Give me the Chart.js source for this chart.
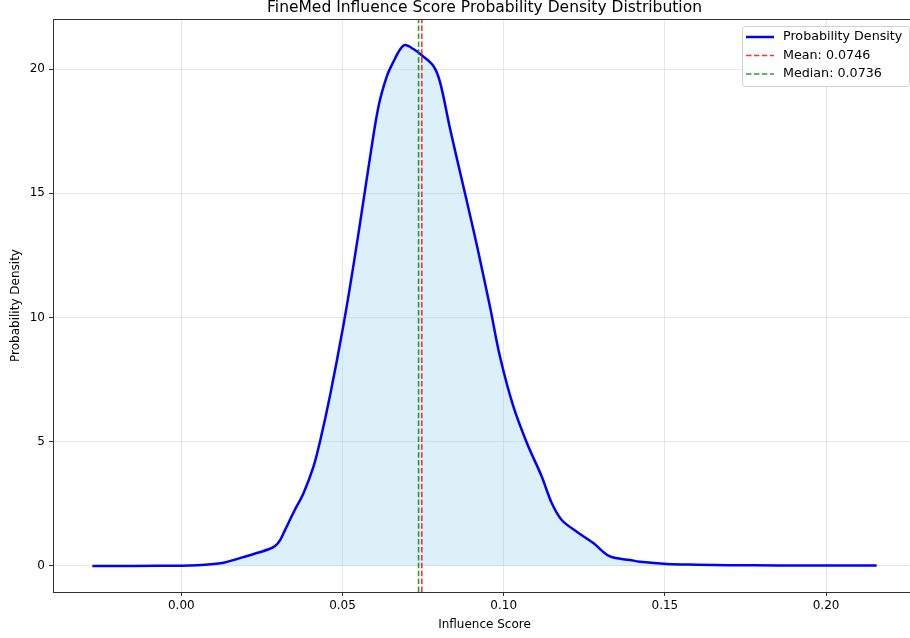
<!DOCTYPE html>
<html>
<head>
<meta charset="utf-8">
<script src="https://cdn.jsdelivr.net/npm/chart.js@4"></script>
<style>
  html, body { margin: 0; padding: 0; background: #fff; overflow: hidden; }
  #wrap { width: 922px; height: 638px; }
</style>
</head>
<body>
<div id="wrap"><canvas id="myChart" width="922" height="638"></canvas></div>
<script>
// influence score grid (x) and estimated density (y)
const scoreValues = [
  -0.0276, -0.015, 0.0, 0.005, 0.010, 0.0131, 0.0204, 0.0271, 0.0291, 0.0307,
  0.0322, 0.0350, 0.0379, 0.0410, 0.0431, 0.0462, 0.0503, 0.0534, 0.0565, 0.0586,
  0.0612, 0.0638, 0.0658, 0.0679, 0.0694, 0.0720, 0.0746, 0.0782, 0.0803, 0.0834,
  0.0870, 0.0896, 0.0917, 0.0958, 0.0989, 0.1030, 0.1072, 0.1118, 0.1149, 0.1180,
  0.1230, 0.1278, 0.1330, 0.1392, 0.1423, 0.1506, 0.160, 0.170, 0.185, 0.200,
  0.2157
];
const densityValues = [
  0.0, 0.0, 0.01, 0.03, 0.08, 0.13, 0.40, 0.67, 0.80, 1.05,
  1.45, 2.2, 2.93, 4.0, 5.05, 6.9, 9.7, 12.1, 14.7, 16.5,
  18.52, 19.73, 20.3, 20.8, 20.97, 20.81, 20.56, 20.13, 19.46, 17.58,
  15.56, 14.1, 12.9, 10.4, 8.4, 6.42, 4.95, 3.6, 2.53, 1.85,
  1.35, 0.92, 0.38, 0.24, 0.17, 0.08, 0.05, 0.03, 0.02, 0.02,
  0.02
];
const meanValue = 0.0746;
const medianValue = 0.0736;

const xTicks = [0.0, 0.05, 0.10, 0.15, 0.20];
const yTicks = [0, 5, 10, 15, 20];
const xLimits = [-0.0398, 0.2279];
const yLimits = [-1.05, 22.02];

const FONT = "'DejaVu Sans', sans-serif";

// title centered over the plot area + frame on top/right
const framePlugin = {
  id: "plotFrame",
  afterDraw(chart) {
    const { ctx, chartArea } = chart;
    ctx.save();
    ctx.strokeStyle = "#333";
    ctx.lineWidth = 1;
    ctx.beginPath();
    ctx.moveTo(chartArea.left, chartArea.top + 0.5);
    ctx.lineTo(chartArea.right + 0.5, chartArea.top + 0.5);
    ctx.lineTo(chartArea.right + 0.5, chartArea.bottom);
    ctx.stroke();
    ctx.fillStyle = "#000";
    ctx.font = "15.5px " + FONT;
    ctx.textAlign = "center";
    ctx.textBaseline = "middle";
    ctx.fillText("FineMed Influence Score Probability Density Distribution",
      (chartArea.left + chartArea.right) / 2, 8);
    ctx.restore();
  }
};

// legend box inside the upper right corner
const legendPlugin = {
  id: "insideLegend",
  afterDraw(chart) {
    const { ctx, chartArea } = chart;
    const w = 167, h = 60;
    const left = chartArea.right - 7 - w;
    const top = chartArea.top + 7;
    ctx.save();
    ctx.beginPath();
    ctx.roundRect(left + 0.5, top + 0.5, w, h, 3);
    ctx.fillStyle = "rgba(255,255,255,0.85)";
    ctx.fill();
    ctx.strokeStyle = "#d0d0d0";
    ctx.lineWidth = 1;
    ctx.stroke();
    ctx.font = "12.7px " + FONT;
    ctx.textBaseline = "middle";
    chart.data.datasets.forEach((ds, i) => {
      const y = top + 11 + i * 18.5;
      ctx.beginPath();
      ctx.setLineDash(ds.borderDash || []);
      ctx.strokeStyle = ds.borderColor;
      ctx.lineWidth = ds.borderWidth;
      ctx.moveTo(left + 4, y);
      ctx.lineTo(left + 32, y);
      ctx.stroke();
      ctx.setLineDash([]);
      ctx.fillStyle = "#000";
      ctx.fillText(ds.label, left + 41, y);
    });
    ctx.restore();
  }
};

const ctx = document.getElementById("myChart").getContext("2d");
new Chart(ctx, {
  type: "line",
  data: {
    datasets: [
      {
        label: "Probability Density",
        data: scoreValues.map((x, i) => ({ x: x, y: densityValues[i] })),
        borderColor: "#0000ff",
        borderWidth: 2.5,
        backgroundColor: "rgba(135,206,235,0.3)",
        fill: "origin",
        pointRadius: 0,
        tension: 0.35,
        order: 2
      },
      {
        label: "Mean: " + meanValue.toFixed(4),
        data: [{ x: meanValue, y: yLimits[0] }, { x: meanValue, y: yLimits[1] }],
        borderColor: "rgba(255,0,0,0.8)",
        borderWidth: 1.6,
        borderDash: [5.5, 2.4],
        pointRadius: 0,
        fill: false,
        order: 0
      },
      {
        label: "Median: " + medianValue.toFixed(4),
        data: [{ x: medianValue, y: yLimits[0] }, { x: medianValue, y: yLimits[1] }],
        borderColor: "rgba(0,128,0,0.8)",
        borderWidth: 1.6,
        borderDash: [5.5, 2.4],
        pointRadius: 0,
        fill: false,
        order: 1
      }
    ]
  },
  options: {
    responsive: false,
    animation: false,
    layout: { padding: { left: 0, right: 6, top: 19, bottom: 0 } },
    plugins: {
      legend: { display: false },
      title: { display: false },
      tooltip: { enabled: false }
    },
    scales: {
      x: {
        type: "linear",
        min: xLimits[0],
        max: xLimits[1],
        afterBuildTicks: (scale) => { scale.ticks = xTicks.map((v) => ({ value: v })); },
        afterFit: (scale) => { scale.height = 46; },
        ticks: {
          color: "#000",
          font: { family: FONT, size: 12 },
          padding: 3,
          maxRotation: 0,
          callback: (v) => Number(v).toFixed(2)
        },
        grid: {
          color: "rgba(176,176,176,0.3)",
          lineWidth: 1,
          tickColor: "#333",
          tickLength: 4
        },
        border: { color: "#333", width: 1 },
        title: {
          display: true,
          text: "Influence Score",
          color: "#000",
          font: { family: FONT, size: 12 },
          padding: { top: 2, bottom: 6 }
        }
      },
      y: {
        type: "linear",
        min: yLimits[0],
        max: yLimits[1],
        afterBuildTicks: (scale) => { scale.ticks = yTicks.map((v) => ({ value: v })); },
        afterFit: (scale) => { scale.width = 53; },
        ticks: {
          color: "#000",
          font: { family: FONT, size: 12 },
          padding: 4,
          callback: (v) => String(v)
        },
        grid: {
          color: "rgba(176,176,176,0.3)",
          lineWidth: 1,
          tickColor: "#333",
          tickLength: 4
        },
        border: { color: "#333", width: 1 },
        title: {
          display: true,
          text: "Probability Density",
          color: "#000",
          font: { family: FONT, size: 12 },
          padding: { top: 9, bottom: 0 }
        }
      }
    }
  },
  plugins: [framePlugin, legendPlugin]
});
</script>
</body>
</html>
